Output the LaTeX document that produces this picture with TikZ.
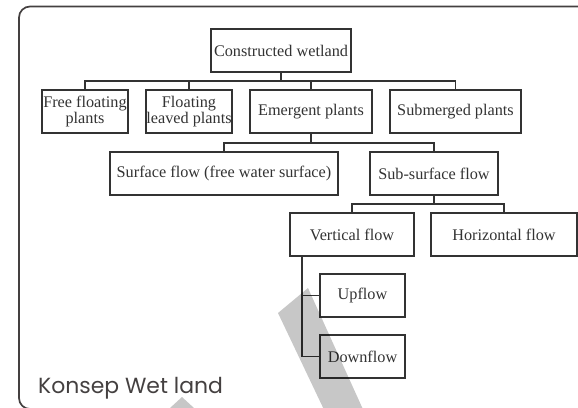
\documentclass[tikz,border=0pt]{standalone}
\usepackage{fontspec}
\setmainfont{Liberation Serif}
\newfontfamily\captionfont{Poppins}
\usetikzlibrary{calc}
\definecolor{ink}{HTML}{333333}
\definecolor{frame}{HTML}{444040}
\tikzset{
  bx/.style={draw=ink, line width=1.6bp, fill=white, inner sep=0pt, minimum height=43bp,
    align=center, text=ink, font=\fontsize{16.3}{15.5}\selectfont},
  conn/.style={draw=ink, line width=1.5bp},
  band/.style={fill=black, opacity=0.22}
}
\begin{document}
\begin{tikzpicture}[x=1bp,y=-1bp]
\useasboundingbox (0,0) rectangle (578,407);
\begin{scope}
\clip (0,0) rectangle (578,407);
\draw[frame, line width=1.7bp, rounded corners=11bp] (19,6.5) rectangle (620,409);
\end{scope}

\node[bx, minimum width=140bp] (cw) at (281,50.5) {Constructed wetland};
\node[bx, minimum width=86bp] (ffp) at (85,111.5) {Free floating\\plants};
\node[bx, minimum width=86bp] (flp) at (189,111.5) {Floating\\leaved plants};
\node[bx, minimum width=122bp] (ep) at (311,111.5) {Emergent plants};
\node[bx, minimum width=131bp] (sp) at (455.5,111.5) {Submerged plants};
\node[bx, minimum width=228bp] (sf) at (224,173.5) {Surface flow (free water surface)};
\node[bx, minimum width=128bp] (ssf) at (434,173.5) {Sub-surface flow};
\node[bx, minimum width=124bp] (vf) at (352,234.5) {Vertical flow};
\node[bx, minimum width=146bp] (hf) at (504,234.5) {Horizontal flow};
\node[bx, minimum width=85bp] (up) at (362.5,295.5) {Upflow};
\node[bx, minimum width=85bp] (df) at (362.5,356.5) {Downflow};

\coordinate (b1) at (281,81);
\coordinate (b2) at (311,143);
\coordinate (b3) at (434,204);
\coordinate (b4) at (302,256);

\draw[conn] (cw.south) -- (b1);
\draw[conn] (b1) -| (ffp.north);
\draw[conn] (b1) -| (flp.north);
\draw[conn] (b1) -| (ep.north);
\draw[conn] (b1) -| (sp.north);
\draw[conn] (ep.south) -- (b2);
\draw[conn] (b2) -| (sf.north);
\draw[conn] (b2) -| (ssf.north);
\draw[conn] (ssf.south) -- (b3);
\draw[conn] (b3) -| (vf.north);
\draw[conn] (b3) -| (hf.north);
\draw[conn] (b4) |- (up.west);
\draw[conn] (b4) |- (df.west);

\node[anchor=base west, inner sep=0pt, text=frame, font=\captionfont\fontsize{22}{22}\selectfont] (cap) at (38,393) {Konsep Wet land};

\begin{scope}
\clip (0,0) rectangle (578,407);
\fill[band] (278,313) -- (308,288) -- (366,416) -- (327,416) -- cycle;
\fill[band] (170,408) -- (182,397) -- (194,408) -- cycle;
\end{scope}
\end{tikzpicture}
\end{document}
